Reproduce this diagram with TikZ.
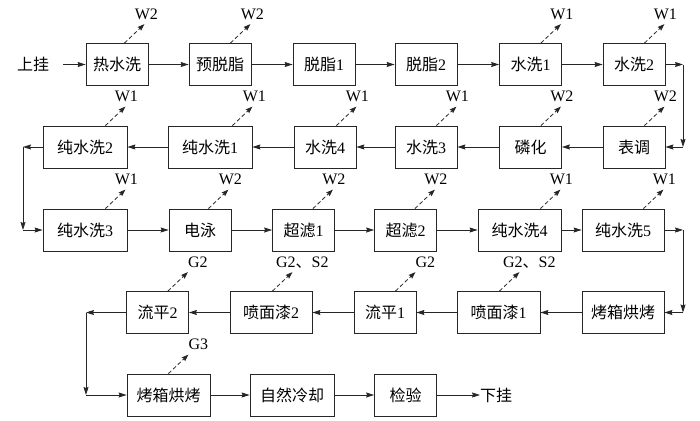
\documentclass[tikz,border=0pt]{standalone}
\usepackage{fontspec}
\setmainfont{Liberation Serif}
\newfontfamily\cjk{Noto Sans CJK SC}
\usetikzlibrary{arrows.meta}
\tikzset{
  box/.style={draw=black!85, line width=0.8pt, minimum height=42pt, inner sep=0pt, font=\fontsize{16}{19}\selectfont},
  wa/.style={box, minimum width=62pt},
  wb/.style={box, minimum width=83pt},
  txt/.style={inner sep=0pt, font=\fontsize{16}{19}\selectfont},
  lab/.style={inner sep=0pt, font=\fontsize{16}{19}\selectfont, anchor=base},
  arr/.style={line width=0.8pt, draw=black!85, -{Stealth[length=8pt,width=5pt,inset=1pt]}},
  emit/.style={line width=0.8pt, draw=black!85, dash pattern=on 4pt off 2.5pt, -{Stealth[length=7pt,width=5pt,inset=1pt]}}
}
% #1 node, #2 label, #3 start shift from north east, #4 label xshift
\newcommand\emitarrow[4]{%
  \draw[emit] ([xshift=#3]#1.north east) -- ++(20pt,19pt) coordinate (#1e);
  \node[lab, xshift=#4] (#1l) at ([yshift=5pt]#1e) {#2};
}
\begin{document}
\begin{tikzpicture}[x=1pt,y=1pt]
\useasboundingbox (0,0) rectangle (700,-420);
% row 1
\node[txt] (start) at (33,-64.5) {\cjk 上挂};
\coordinate (s0) at (63,-64.5);
\node[wa] (r1a) at (117,-64.5) {\cjk 热水洗};
\node[wa] (r1b) at (220,-64.5) {\cjk 预脱脂};
\node[wa] (r1c) at (324,-64.5) {{\cjk 脱脂}1};
\node[wa] (r1d) at (426,-64.5) {{\cjk 脱脂}2};
\node[wa] (r1e) at (530.5,-64.5) {{\cjk 水洗}1};
\node[wa] (r1f) at (634,-64.5) {{\cjk 水洗}2};
% row 2
\node[wb, minimum width=84pt] (r2a) at (85,-147) {{\cjk 纯水洗}2};
\node[wb, minimum width=84pt] (r2b) at (210,-147) {{\cjk 纯水洗}1};
\node[wa] (r2c) at (325,-147) {{\cjk 水洗}4};
\node[wa] (r2d) at (426,-147) {{\cjk 水洗}3};
\node[wa] (r2e) at (530.5,-147) {\cjk 磷化};
\node[wa] (r2f) at (634,-147) {\cjk 表调};
% row 3
\node[wb, minimum width=84pt] (r3a) at (85,-230) {{\cjk 纯水洗}3};
\node[wa] (r3b) at (200,-230) {\cjk 电泳};
\node[wa] (r3c) at (303.5,-230) {{\cjk 超滤}1};
\node[wa] (r3d) at (405.5,-230) {{\cjk 超滤}2};
\node[wb] (r3e) at (519.5,-230) {{\cjk 纯水洗}4};
\node[wb, minimum width=82pt] (r3f) at (623,-230) {{\cjk 纯水洗}5};
% row 4
\node[wa] (r4a) at (157.5,-312.5) {{\cjk 流平}2};
\node[wb, minimum width=82pt] (r4b) at (271,-312.5) {{\cjk 喷面漆}2};
\node[wa] (r4c) at (385,-312.5) {{\cjk 流平}1};
\node[wb] (r4d) at (498.5,-312.5) {{\cjk 喷面漆}1};
\node[wb, minimum width=82pt] (r4e) at (623,-312.5) {\cjk 烤箱烘烤};
% row 5
\node[wb, minimum width=83pt] (r5a) at (168.5,-395) {\cjk 烤箱烘烤};
\node[wb, minimum width=84pt] (r5b) at (292,-395) {\cjk 自然冷却};
\node[wa] (r5c) at (405.5,-395) {\cjk 检验};
\node[txt, anchor=west] (end) at (480,-395) {\cjk 下挂};
% corners
\coordinate (c1) at (683,-64.5);
\coordinate (c2) at (683,-147);
\coordinate (c3) at (23,-147);
\coordinate (c4) at (23,-230);
\coordinate (c5) at (683,-230);
\coordinate (c6) at (683,-312.5);
\coordinate (c7) at (86,-312.5);
\coordinate (c8) at (86,-395);
% flow
\draw[arr] (s0) -- (r1a);
\draw[arr] (r1a) -- (r1b);
\draw[arr] (r1b) -- (r1c);
\draw[arr] (r1c) -- (r1d);
\draw[arr] (r1d) -- (r1e);
\draw[arr] (r1e) -- (r1f);
\draw[arr] (r1f) -- (c1);
\draw[arr] (c1) -- (c2);
\draw[arr] (c2) -- (r2f);
\draw[arr] (r2f) -- (r2e);
\draw[arr] (r2e) -- (r2d);
\draw[arr] (r2d) -- (r2c);
\draw[arr] (r2c) -- (r2b);
\draw[arr] (r2b) -- (r2a);
\draw[arr] (r2a) -- (c3);
\draw[arr] (c3) -- (c4);
\draw[arr] (c4) -- (r3a);
\draw[arr] (r3a) -- (r3b);
\draw[arr] (r3b) -- (r3c);
\draw[arr] (r3c) -- (r3d);
\draw[arr] (r3d) -- (r3e);
\draw[arr] (r3e) -- (r3f);
\draw[arr] (r3f) -- (c5);
\draw[arr] (c5) -- (c6);
\draw[arr] (c6) -- (r4e);
\draw[arr] (r4e) -- (r4d);
\draw[arr] (r4d) -- (r4c);
\draw[arr] (r4c) -- (r4b);
\draw[arr] (r4b) -- (r4a);
\draw[arr] (r4a) -- (c7);
\draw[arr] (c7) -- (c8);
\draw[arr] (c8) -- (r5a);
\draw[arr] (r5a) -- (r5b);
\draw[arr] (r5b) -- (r5c);
\draw[arr] (r5c) -- (end);
% emissions
\emitarrow{r1a}{W2}{-24pt}{2pt}
\emitarrow{r1b}{W2}{-21pt}{2pt}
\emitarrow{r1e}{W1}{-21pt}{1pt}
\emitarrow{r1f}{W1}{-21pt}{1pt}
\emitarrow{r2a}{W1}{-22pt}{1pt}
\emitarrow{r2b}{W1}{-20pt}{2pt}
\emitarrow{r2c}{W1}{-20pt}{1pt}
\emitarrow{r2d}{W1}{-21pt}{1pt}
\emitarrow{r2e}{W2}{-21pt}{1pt}
\emitarrow{r2f}{W2}{-21pt}{1pt}
\emitarrow{r3a}{W1}{-22pt}{1pt}
\emitarrow{r3b}{W2}{-23pt}{2pt}
\emitarrow{r3c}{W2}{-22pt}{1pt}
\emitarrow{r3d}{W2}{-22pt}{1pt}
\emitarrow{r3e}{W1}{-21pt}{1pt}
\emitarrow{r3f}{W1}{-21pt}{1pt}
\emitarrow{r4a}{G2}{-21pt}{10pt}
\emitarrow{r4b}{G2{\cjk 、}S2}{-40pt}{10pt}
\emitarrow{r4c}{G2}{-21pt}{10pt}
\emitarrow{r4d}{G2{\cjk 、}S2}{-41pt}{10pt}
\emitarrow{r5a}{G3}{-42pt}{10pt}
\end{tikzpicture}
\end{document}
